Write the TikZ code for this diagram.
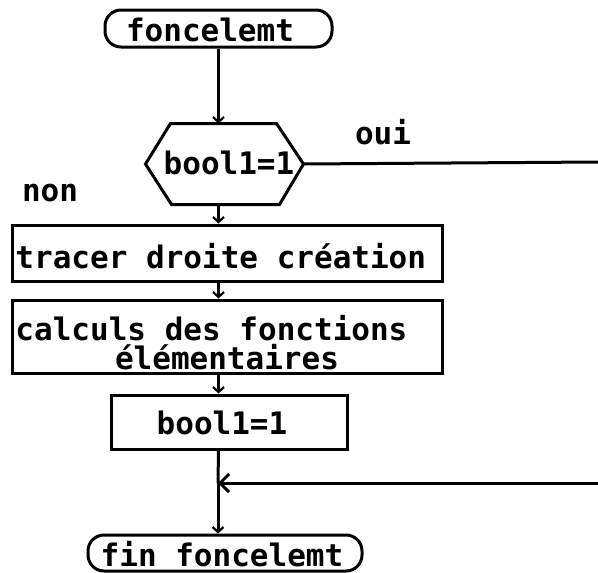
\documentclass[tikz,border=0pt]{standalone}
\usepackage{fontspec}
\setmonofont{DejaVu Sans Mono}
\usetikzlibrary{arrows.meta}
\begin{document}
\begin{tikzpicture}[x=1pt,y=-1pt,
  line width=3pt,
  txt/.style={font=\ttfamily\bfseries\fontsize{31}{36}\selectfont, inner sep=0pt},
  term/.style={draw, rounded corners=16pt, inner sep=0pt},
  proc/.style={draw, inner sep=0pt},
  flow/.style={-{Straight Barb[length=5pt,width=11pt,line width=2.2pt]}},
  back/.style={-{Straight Barb[length=9pt,width=18pt,line width=3pt]}}]
  \useasboundingbox (0,0) rectangle (598,573);

  % start terminal
  \node[term, minimum width=227pt, minimum height=37pt] (start) at (218.5,28.5) {};
  \node[txt] (starttxt) at (210,30) {foncelemt};

  % test bool1=1
  \node[minimum width=155pt, minimum height=78pt, inner sep=0pt] (hex) at (224.5,164) {};
  \draw (hex.west) -- ([xshift=25pt]hex.north west) -- ([xshift=-27pt]hex.north east)
        -- (hex.east) -- ([xshift=-24pt]hex.south east) -- ([xshift=26pt]hex.south west) -- cycle;
  \node[txt] (hextxt) at (229,163) {bool1=1};
  \node[txt] (oui) at (383,132) {oui};
  \node[txt] (non) at (50,193) {non};
  \coordinate (ouiend) at (598,162);

  % processing steps
  \node[proc, minimum width=430pt, minimum height=56pt] (trace) at (227,253) {};
  \node[txt, anchor=west] (tracetxt) at (14,256) {tracer droite création};

  \node[proc, minimum width=430pt, minimum height=73pt] (calc) at (227,336.5) {};
  \node[txt, anchor=west] (calc1) at (14,328) {calculs des fonctions};
  \node[txt] (calc2) at (227,357) {élémentaires};

  \node[proc, minimum width=236pt, minimum height=54pt] (set) at (229,422) {};
  \node[txt] (settxt) at (222,423) {bool1=1};

  % end terminal
  \node[term, minimum width=274pt, minimum height=36pt] (stop) at (225,553) {};
  \node[txt] (stoptxt) at (222,554) {fin foncelemt};

  % junction of the two branches
  \coordinate (join) at (218,483);
  \coordinate (retour) at (598,483);

  % connectors
  \draw[flow] (start.south) -- (start.south |- hex.north);
  \draw (hex.east) -- (ouiend);
  \draw[flow] (start.south |- hex.south) -- (start.south |- trace.north);
  \draw[flow] (start.south |- trace.south) -- (start.south |- calc.north);
  \draw[flow] (start.south |- calc.south) -- (start.south |- set.north);
  \draw (start.south |- set.south) -- (join);
  \draw[flow] (join) -- (join |- stop.north);
  \draw[back] (retour) -- (join);
\end{tikzpicture}
\end{document}
